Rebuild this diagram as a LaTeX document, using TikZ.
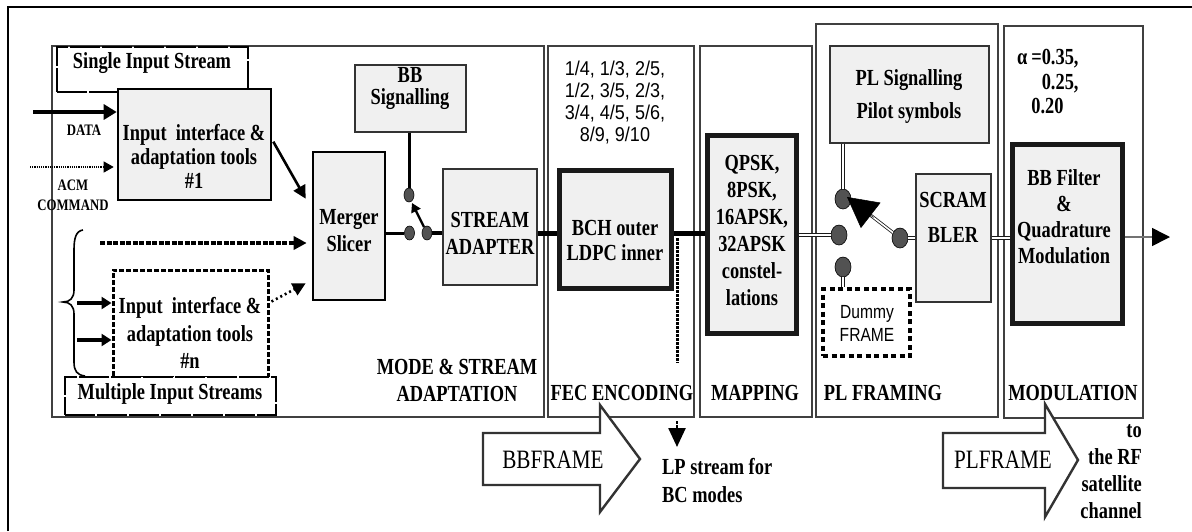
\documentclass[tikz,border=0pt]{standalone}
\usepackage{fontspec}
\setmainfont{Liberation Serif}[FakeStretch=0.8]
\newfontfamily\ratesf{Liberation Sans}[FakeStretch=0.9]
\newfontfamily\dummyf{Liberation Sans}[FakeStretch=0.82]
\usetikzlibrary{arrows.meta,shapes.geometric,calc}
\tikzset{
  sec/.style={draw=black!75, line width=1.3pt},
  gbox/.style={draw=black!80, fill=black!6, line width=1.3pt, inner sep=0pt},
  mbox/.style={gbox, draw=black, line width=2.6pt},
  hbox/.style={gbox, draw=black!90, line width=5pt},
  tf/.style={font=\fontsize{23}{#1}\selectfont\bfseries, align=center, inner sep=0pt},
  tf/.default=26,
  dotc/.style={ellipse, draw=black, fill=black!68, line width=0.6pt, inner sep=0pt},
  sdot/.style={dotc, minimum width=10pt, minimum height=14pt},
  bdot/.style={dotc, minimum width=16pt, minimum height=20pt},
  dbl/.style={double, double distance=1.6pt, line width=0.8pt, draw=black!90},
  blk/.style={draw=black!80, line width=2.4pt, fill=white, line join=miter},
}
\begin{document}
\begin{tikzpicture}[x=1pt,y=-1pt]
\useasboundingbox (0,0) rectangle (1192,531);
% outer frame
\draw[line width=1.5pt] (8,531) -- (8,7) -- (1192,7);
% section boxes
\draw[sec] (52,46) rectangle (544,417);
\draw[sec] (548,46) rectangle (694,417);
\draw[sec] (700,46) rectangle (812,417);
\draw[sec] (816,24) rectangle (998,417);
\draw[sec] (1004,26) rectangle (1143,418);
% section labels
\node[tf=27] (lmode) at (457,380) {MODE \& STREAM\\ADAPTATION};
\node[tf] (lfec) at (622,393) {FEC ENCODING};
\node[tf] (lmap) at (755,393) {MAPPING};
\node[tf] (lpl) at (883,393) {PL FRAMING};
\node[tf] (lmod) at (1073,393) {MODULATION};
% single input stream
\node[draw=black, line width=2.6pt, dash pattern=on 30pt off 2pt, fill=white,
      minimum width=191pt, minimum height=45pt] (sis) at (152.5,69.5) {};
\node[tf] (tsis) at (152,63) {Single Input Stream};
% input interface 1
\node[mbox, minimum width=153pt, minimum height=111pt] (in1) at (194.5,144.5) {};
\node[tf=24] (tin1) at (194,156) {Input\ \ interface \&\\adaptation tools\\\#1};
\node[font=\fontsize{16}{20}\selectfont\bfseries] (tdata) at (84,130) {DATA};
\node[font=\fontsize{16}{20}\selectfont\bfseries, align=center] (tacm) at (73,195) {ACM\\COMMAND};
% merger
\node[mbox, minimum width=72pt, minimum height=148pt] (merger) at (349,226) {};
\node[tf=27] (tmerger) at (349,231) {Merger\\Slicer};
% input interface n
\node[draw=black, line width=3pt, dash pattern=on 5pt off 2pt, fill=white,
      minimum width=155pt, minimum height=107pt] (inn) at (190.5,323.5) {};
\node[tf=27.5] (tinn) at (190,333) {Input\ \ interface \&\\adaptation tools\\\#n};
% multiple input streams
\node[draw=black, line width=2.6pt, dash pattern=on 30pt off 2pt, fill=white,
      minimum width=211pt, minimum height=38pt] (mis) at (170.5,396) {};
\node[tf] (tmis) at (170,394) {Multiple Input Streams};
% brace
\draw[line width=1.6pt] (83,230) .. controls (76,231) and (74,238) .. (74,250)
  -- (74,290) .. controls (74,298) and (70,302) .. (63,302)
  .. controls (70,302) and (74,306) .. (74,314) -- (74,362)
  .. controls (74,371) and (77,375) .. (85,376);
% BB signalling
\node[gbox, minimum width=111pt, minimum height=67pt] (bbs) at (410.5,98.5) {};
\node[tf=22] (tbbs) at (410,89) {BB\\Signalling};
% stream adapter
\node[gbox, minimum width=94pt, minimum height=116pt] (sad) at (490,227) {};
\node[tf=27] (tsad) at (490,233) {STREAM\\ADAPTER};
% BCH
\node[hbox, minimum width=112pt, minimum height=118pt] (bch) at (615,229) {};
\node[tf=25] (tbch) at (615,240) {BCH outer\\LDPC inner};
\node[font=\ratesf\fontsize{20}{22}\selectfont, align=center] (trates) at (615,103)
  {1/4, 1/3, 2/5,\\1/2, 3/5, 2/3,\\3/4, 4/5, 5/6,\\8/9, 9/10};
% mapping
\node[hbox, minimum width=89pt, minimum height=198pt] (qpsk) at (751.5,234) {};
\node[tf=27] (tqpsk) at (752,230) {QPSK,\\8PSK,\\16APSK,\\32APSK\\constel-\\lations};
% PL signalling
\node[gbox, minimum width=159pt, minimum height=97pt] (pls) at (909.5,94.5) {};
\node[tf=33] (tpls) at (909,96) {PL Signalling\\Pilot symbols};
% scrambler
\node[gbox, minimum width=75pt, minimum height=128pt] (scr) at (953.5,238) {};
\node[tf=35] (tscr) at (953,217) {SCRAM\\BLER};
% dummy frame
\node[draw=black, line width=4.5pt, dash pattern=on 5pt off 3.5pt, fill=white,
      minimum width=87pt, minimum height=67pt] (dummy) at (866.5,322.5) {};
\node[font=\dummyf\fontsize{19}{23}\selectfont, align=center] (tdummy) at (867,323) {Dummy\\FRAME};
% BB filter
\node[hbox, minimum width=110pt, minimum height=179pt] (bbf) at (1067,233.5) {};
\node[tf=26] (tbbf) at (1064,217) {BB Filter\\\&\\Quadrature\\Modulation};
\node[tf=24.5, align=left, anchor=west] (talpha) at (1017,82)
  {α\,=0.35,\\\phantom{α\,=}0.25,\\\phantom{α\,}0.20};
% switch dots
\node[sdot] (d1t) at (409,195) {};
\node[sdot] (d1l) at (409.5,233) {};
\node[sdot] (d1r) at (427,233) {};
\node[bdot] (d2t) at (843,199) {};
\node[bdot] (d2m) at (839,235) {};
\node[bdot] (d2b) at (843,267) {};
\node[bdot] (d2r) at (900,238) {};
% free ends
\coordinate (datain) at (33,112);
\coordinate (acmin) at (30,167);
\coordinate (msin) at (100,243);
\coordinate (br1) at (77,303);
\coordinate (br2) at (77,340);
\coordinate (lpa) at (677,238);
\coordinate (lpb) at (677,363);
\coordinate (lpc) at (677,421);
\coordinate (lpend) at (677,447);
\coordinate (out) at (1170,237);
\coordinate (armtip) at (847,197);
% input connectors
\draw[line width=4.5pt, -{Triangle[length=13pt,width=15pt]}] (datain) -- (datain -| in1.west);
\draw[densely dotted, line width=1.2pt, -{Triangle[length=10pt,width=11pt]}, shorten >=3pt] (acmin) -- (acmin -| in1.west);
\draw[line width=2.6pt, -{Triangle[length=13pt,width=13pt]}] ($(in1.north east)+(1,54)$) -- ($(merger.north west)+(-6,48)$);
\draw[line width=3.5pt, dash pattern=on 5pt off 1.5pt, -{Triangle[length=13pt,width=13pt]}, shorten >=5pt] (msin) -- (msin -| merger.west);
\draw[line width=2.6pt, dash pattern=on 2pt off 3pt, -{Triangle[length=13pt,width=13pt]}] ($(inn.north east)+(2,33)$) -- ($(merger.south west)+(-6,-18)$);
\draw[line width=3.5pt, -{Triangle[length=10pt,width=12pt]}] (br1) -- (br1 -| inn.west);
\draw[line width=3.5pt, -{Triangle[length=10pt,width=12pt]}] (br2) -- (br2 -| inn.west);
% BB switch
\draw[line width=3pt] (d1t |- bbs.south) -- (d1t);
\draw[line width=3pt] (d1l -| merger.east) -- (d1l);
\draw[line width=4.5pt] (d1r) -- (d1r -| sad.west);
\draw[line width=2.4pt, -{Triangle[length=9pt,width=10pt]}] (d1r) -- ($(d1t)+(3,8)$);
\draw[line width=5pt] (d1r -| sad.east) -- (d1r -| bch.west);
\draw[line width=5pt] (d1r -| bch.east) -- (d1r -| qpsk.west);
% LP stream
\draw[line width=3pt, dash pattern=on 2.5pt off 1.5pt] (lpa) -- (lpb);
\draw[line width=2.5pt, dash pattern=on 2.5pt off 1.5pt, -{Triangle[length=19pt,width=17pt]}] (lpc) -- (lpend);
\node[tf=28, align=left, anchor=west] (tlp) at (662,481) {LP stream for\\BC modes};
% PL framing connectors
\draw[dbl] (d2m -| qpsk.east) -- (d2m);
\draw[dbl] (d2t |- pls.south) -- (d2t);
\draw[dbl] (d2b) -- (d2b |- dummy.north);
\draw[dbl] (d2r) -- (d2r -| scr.west);
\draw[dbl] (d2r -| scr.east) -- (d2r -| bbf.west);
\draw[dbl] (d2r) -- ($(d2r)!0.6!(armtip)$);
\draw[line width=0.5pt, -{Triangle[length=30pt,width=32pt]}] ($(d2r)!0.5!(armtip)$) -- (armtip);
\draw[black!55, line width=1.6pt, -{Triangle[length=18pt,width=18pt,black]}] (out -| bbf.east) -- (out);
% block arrows
\draw[blk] (483,433) -- (600,433) -- (600,405) -- (640,459) -- (600,512) -- (600,485) -- (483,485) -- cycle;
\node[font=\fontsize{26.5}{28}\selectfont] (tbbframe) at (553,460) {BBFRAME};
\draw[blk] (943,433) -- (1045,433) -- (1045,404) -- (1078,460) -- (1045,517) -- (1045,488) -- (943,488) -- cycle;
\node[font=\fontsize{26.5}{28}\selectfont] (tplframe) at (1003,460) {PLFRAME};
\node[tf=27, align=right, anchor=east] (trf) at (1142,472) {to\\the RF\\satellite\\channel};
\end{tikzpicture}
\end{document}
